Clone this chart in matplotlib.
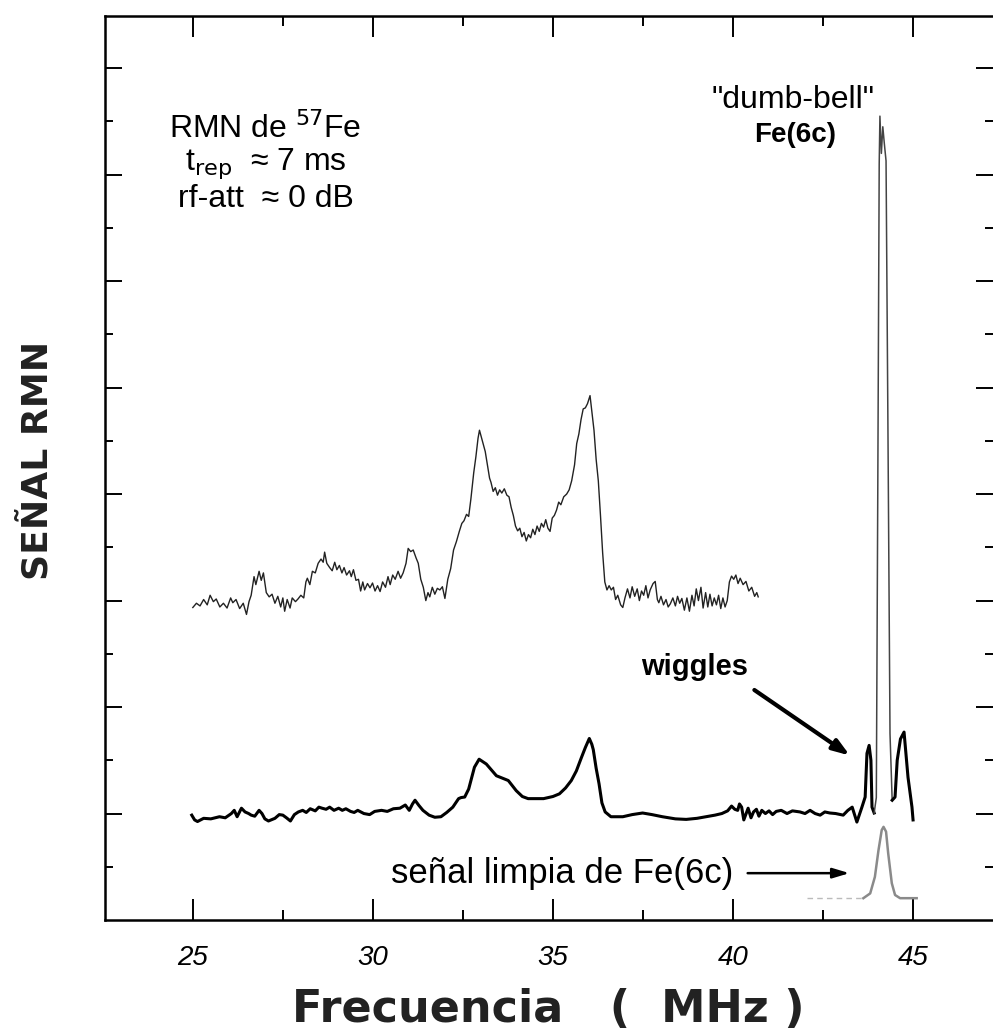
import matplotlib.pyplot as plt
from matplotlib.ticker import FixedLocator

plt.rcParams['font.family'] = ['Liberation Sans', 'DejaVu Sans']

# espectro superior (ruidoso): (frecuencia MHz, señal u.a.)
espectro_sup = [
    (25.00, 5.87), (25.10, 5.95), (25.20, 5.90), (25.30, 6.02), (25.40, 5.92),
    (25.48, 6.10), (25.57, 5.98), (25.65, 6.03), (25.75, 5.88), (25.85, 5.95),
    (25.95, 5.86), (26.05, 6.05), (26.11, 5.96), (26.20, 6.02), (26.30, 5.85),
    (26.40, 5.95), (26.49, 5.74), (26.56, 5.98), (26.62, 6.10), (26.70, 6.45),
    (26.75, 6.30), (26.84, 6.55), (26.90, 6.38), (26.96, 6.52), (27.04, 6.15),
    (27.12, 6.07), (27.20, 6.12), (27.28, 5.95), (27.36, 6.08), (27.44, 5.88),
    (27.50, 6.05), (27.55, 5.80), (27.62, 6.02), (27.70, 5.86), (27.76, 6.05),
    (27.85, 5.98), (27.92, 6.03), (28.00, 6.10), (28.08, 6.05), (28.14, 6.35),
    (28.18, 6.42), (28.25, 6.30), (28.32, 6.55), (28.40, 6.52), (28.48, 6.70),
    (28.56, 6.78), (28.62, 6.72), (28.66, 6.91), (28.72, 6.70), (28.80, 6.62),
    (28.87, 6.56), (28.94, 6.72), (29.00, 6.58), (29.07, 6.66), (29.14, 6.52),
    (29.20, 6.62), (29.27, 6.48), (29.35, 6.56), (29.40, 6.45), (29.46, 6.58),
    (29.53, 6.38), (29.60, 6.40), (29.66, 6.18), (29.72, 6.35), (29.77, 6.20),
    (29.85, 6.32), (29.92, 6.24), (29.99, 6.33), (30.06, 6.18), (30.13, 6.28),
    (30.20, 6.17), (30.27, 6.35), (30.35, 6.25), (30.42, 6.45), (30.48, 6.30),
    (30.55, 6.48), (30.62, 6.40), (30.70, 6.55), (30.77, 6.42), (30.84, 6.52),
    (30.92, 6.70), (30.98, 6.98), (31.05, 6.92), (31.12, 6.95), (31.20, 6.80),
    (31.26, 6.70), (31.33, 6.40), (31.40, 6.25), (31.47, 6.00), (31.53, 6.15),
    (31.58, 6.07), (31.65, 6.25), (31.72, 6.12), (31.79, 6.23), (31.86, 6.20),
    (31.93, 6.26), (32.00, 6.04), (32.08, 6.40), (32.16, 6.60), (32.24, 6.95),
    (32.32, 7.11), (32.40, 7.30), (32.47, 7.45), (32.53, 7.50), (32.60, 7.62),
    (32.66, 7.58), (32.72, 7.90), (32.80, 8.40), (32.86, 8.70), (32.92, 9.05),
    (32.96, 9.20), (33.00, 9.10), (33.06, 8.95), (33.12, 8.80), (33.18, 8.55),
    (33.24, 8.30), (33.28, 8.22), (33.34, 8.05), (33.40, 8.12), (33.46, 7.98),
    (33.52, 8.08), (33.58, 8.02), (33.65, 8.10), (33.72, 7.98), (33.78, 7.95),
    (33.84, 7.75), (33.90, 7.60), (33.96, 7.40), (34.02, 7.31), (34.08, 7.36),
    (34.14, 7.20), (34.20, 7.28), (34.26, 7.12), (34.32, 7.24), (34.38, 7.18),
    (34.44, 7.34), (34.50, 7.24), (34.56, 7.40), (34.62, 7.30), (34.68, 7.45),
    (34.74, 7.38), (34.80, 7.52), (34.86, 7.36), (34.92, 7.30), (34.98, 7.55),
    (35.04, 7.60), (35.10, 7.70), (35.16, 7.85), (35.22, 7.80), (35.30, 7.95),
    (35.38, 8.00), (35.45, 8.08), (35.52, 8.25), (35.60, 8.55), (35.66, 8.95),
    (35.72, 9.13), (35.78, 9.40), (35.84, 9.60), (35.90, 9.62), (35.96, 9.70),
    (36.03, 9.85), (36.08, 9.55), (36.14, 9.20), (36.20, 8.65), (36.26, 8.25),
    (36.32, 7.60), (36.38, 6.90), (36.44, 6.35), (36.50, 6.20), (36.56, 6.28),
    (36.62, 6.20), (36.68, 6.25), (36.74, 6.02), (36.80, 6.10), (36.88, 5.92),
    (36.94, 5.87), (37.00, 6.05), (37.07, 6.22), (37.14, 6.05), (37.20, 6.26),
    (37.27, 6.08), (37.34, 6.22), (37.40, 6.00), (37.46, 6.18), (37.52, 6.10),
    (37.58, 6.28), (37.64, 6.05), (37.70, 6.20), (37.78, 6.32), (37.84, 6.36),
    (37.90, 6.02), (37.94, 5.96), (38.00, 6.08), (38.07, 5.92), (38.14, 6.02),
    (38.20, 5.88), (38.26, 5.94), (38.33, 6.05), (38.40, 5.90), (38.46, 6.08),
    (38.52, 5.95), (38.58, 6.04), (38.65, 5.82), (38.72, 6.05), (38.79, 5.80),
    (38.86, 6.10), (38.92, 5.90), (38.98, 6.22), (39.04, 6.00), (39.11, 6.25),
    (39.17, 5.86), (39.24, 6.15), (39.30, 5.88), (39.36, 6.12), (39.42, 5.90),
    (39.48, 6.05), (39.54, 5.92), (39.60, 6.10), (39.66, 5.85), (39.72, 6.05),
    (39.78, 5.88), (39.84, 6.00), (39.90, 6.35), (39.96, 6.46), (40.02, 6.40),
    (40.08, 6.48), (40.14, 6.32), (40.20, 6.42), (40.28, 6.30), (40.36, 6.36),
    (40.44, 6.18), (40.52, 6.25), (40.60, 6.08), (40.66, 6.15), (40.70, 6.07),
]

# espectro inferior, hasta el pie del pico principal
espectro_inf = [
    (24.97, 1.97), (25.05, 1.88), (25.13, 1.85), (25.30, 1.91), (25.50, 1.90),
    (25.74, 1.94), (25.90, 1.92), (26.07, 2.00), (26.15, 2.06), (26.23, 1.94),
    (26.35, 2.10), (26.45, 2.03), (26.55, 2.00), (26.62, 1.97), (26.72, 1.95),
    (26.84, 2.06), (26.92, 2.00), (27.00, 1.90), (27.10, 1.86), (27.28, 1.91),
    (27.40, 1.98), (27.50, 1.97), (27.60, 1.92), (27.71, 1.86), (27.82, 1.98),
    (27.93, 2.03), (28.05, 2.06), (28.15, 2.02), (28.26, 2.09), (28.40, 2.05),
    (28.50, 2.12), (28.59, 2.10), (28.70, 2.08), (28.80, 2.12), (28.92, 2.06),
    (29.05, 2.10), (29.15, 2.06), (29.25, 2.09), (29.38, 2.04), (29.48, 2.02),
    (29.58, 2.06), (29.75, 2.00), (29.91, 1.98), (30.05, 2.04), (30.24, 2.06),
    (30.40, 2.04), (30.57, 2.09), (30.75, 2.10), (30.90, 2.16), (31.01, 2.06),
    (31.10, 2.18), (31.17, 2.25), (31.28, 2.15), (31.39, 2.06), (31.56, 1.97),
    (31.72, 1.93), (31.89, 1.94), (32.05, 2.02), (32.22, 2.12), (32.38, 2.28),
    (32.45, 2.30), (32.55, 2.31), (32.66, 2.46), (32.82, 2.87), (32.95, 3.02),
    (33.15, 2.93), (33.43, 2.71), (33.76, 2.62), (33.98, 2.43), (34.15, 2.32),
    (34.31, 2.28), (34.74, 2.28), (35.00, 2.32), (35.18, 2.37), (35.35, 2.48),
    (35.51, 2.62), (35.65, 2.80), (35.79, 3.05), (35.90, 3.24), (36.01, 3.41),
    (36.08, 3.30), (36.12, 3.20), (36.20, 2.85), (36.28, 2.56), (36.36, 2.20),
    (36.45, 2.03), (36.61, 1.94), (36.94, 1.94), (37.20, 1.98), (37.49, 2.01),
    (37.75, 1.98), (38.04, 1.94), (38.40, 1.90), (38.70, 1.89), (39.00, 1.91),
    (39.25, 1.94), (39.50, 1.97), (39.69, 2.00), (39.85, 2.05), (39.96, 2.14),
    (40.05, 2.08), (40.13, 2.06), (40.18, 2.18), (40.24, 2.12), (40.30, 1.88),
    (40.35, 1.97), (40.42, 2.10), (40.50, 1.92), (40.57, 2.03), (40.65, 2.08),
    (40.72, 1.95), (40.80, 2.06), (40.90, 2.00), (41.00, 2.05), (41.10, 1.98),
    (41.20, 2.04), (41.34, 2.06), (41.50, 2.00), (41.65, 2.05), (41.86, 2.03),
    (42.00, 2.00), (42.14, 2.06), (42.28, 2.00), (42.42, 1.97), (42.55, 2.03),
    (42.69, 2.01), (42.85, 2.00), (43.06, 1.97), (43.19, 2.06), (43.31, 2.12),
    (43.44, 1.84), (43.58, 2.12), (43.67, 2.31), (43.72, 3.13), (43.78, 3.28),
    (43.83, 3.00), (43.86, 2.12), (43.92, 2.01),
]
f_sup, s_sup = zip(*espectro_sup)
f_inf, s_inf = zip(*espectro_inf)

# pico "dumb-bell" Fe(6c)
f_db = [43.92, 43.98, 44.02, 44.06, 44.08, 44.12, 44.16, 44.20, 44.25, 44.30,
        44.36, 44.42]
s_db = [2.01, 2.30, 8.00, 14.20, 15.10, 14.40, 14.90, 14.60, 14.26, 9.50,
        3.50, 2.25]

# wiggles a la derecha del pico
f_wg = [44.42, 44.50, 44.56, 44.65, 44.75, 44.86, 44.97, 45.00]
s_wg = [2.25, 2.31, 3.00, 3.40, 3.53, 2.68, 2.12, 1.88]

# señal limpia de Fe(6c)
f_limpia = [43.62, 43.81, 43.94, 44.04, 44.13, 44.18, 44.25, 44.31, 44.41,
            44.50, 44.64, 45.10]
s_limpia = [0.41, 0.50, 0.81, 1.31, 1.69, 1.75, 1.66, 1.25, 0.69,
            0.47, 0.41, 0.41]
f_limpia_base = [42.05, 43.62]
s_limpia_base = [0.41, 0.41]

ticks_x = [25, 30, 35, 40, 45]
ticks_x_menor = [27.5, 32.5, 37.5, 42.5]
ticks_y = [2, 4, 6, 8, 10, 12, 14, 16]
ticks_y_menor = [1, 3, 5, 7, 9, 11, 13, 15]

fig = plt.figure(figsize=(9.93, 10.35), dpi=100)
ax = fig.add_axes([0.1057, 0.1111, 0.8943, 0.8734])

ax.plot(f_sup, s_sup, color='#222222', lw=1.0)
ax.plot(f_inf, s_inf, color='black', lw=2.2, solid_joinstyle='round')
ax.plot(f_db, s_db, color='#444444', lw=1.1)
ax.plot(f_wg, s_wg, color='black', lw=2.2)
ax.plot(f_limpia, s_limpia, color='#8a8a8a', lw=1.8)
ax.plot(f_limpia_base, s_limpia_base, color='#bbbbbb', lw=1.0, ls=(0, (4, 3)))

ax.set_xlim(22.56, 47.22)
ax.set_ylim(0, 16.98)

ax.xaxis.set_major_locator(FixedLocator(ticks_x))
ax.xaxis.set_minor_locator(FixedLocator(ticks_x_menor))
ax.yaxis.set_major_locator(FixedLocator(ticks_y))
ax.yaxis.set_minor_locator(FixedLocator(ticks_y_menor))
ax.set_yticklabels([])

ax.tick_params(axis='x', which='both', direction='in', top=True, bottom=True,
               width=1.4, pad=18)
ax.tick_params(axis='x', which='major', length=15)
ax.tick_params(axis='x', which='minor', length=7)
ax.tick_params(axis='y', which='both', direction='in', left=True, right=True,
               width=1.4)
ax.tick_params(axis='y', which='major', length=12)
ax.tick_params(axis='y', which='minor', length=6)

for lab in ax.get_xticklabels():
    lab.set_fontsize(20)
    lab.set_fontstyle('italic')

ax.spines['right'].set_visible(False)
for lado in ['left', 'top', 'bottom']:
    ax.spines[lado].set_linewidth(1.8)

# anotaciones
ax.text(27.02, 14.86, r'RMN de $^{57}$Fe', fontsize=23, ha='center', va='center')
ax.text(27.03, 14.20, r't$_{\rm rep}$  ≈ 7 ms', fontsize=23, ha='center', va='center')
ax.text(27.02, 13.55, 'rf-att  ≈ 0 dB', fontsize=23, ha='center', va='center')

ax.text(41.67, 15.40, '"dumb-bell"', fontsize=23, ha='center', va='center')
ax.text(41.72, 14.75, 'Fe(6c)', fontsize=20, ha='center', va='center',
        fontweight='bold')

ax.text(38.94, 4.75, 'wiggles', fontsize=21, ha='center', va='center',
        fontweight='bold')
ax.annotate('', xy=(43.31, 3.06), xytext=(40.53, 4.35),
            arrowprops=dict(arrowstyle='-|>,head_length=1.0,head_width=0.35',
                            color='black', lw=3))

ax.text(35.25, 0.88, 'señal limpia de Fe(6c)', fontsize=25, ha='center',
        va='center')
ax.annotate('', xy=(43.31, 0.88), xytext=(40.33, 0.88),
            arrowprops=dict(arrowstyle='-|>,head_length=1.0,head_width=0.3',
                            color='black', lw=1.8))

fig.text(38 / 993, 1 - 460 / 1035, 'SEÑAL RMN', rotation=90, fontsize=26,
         fontweight='bold', ha='center', va='center', color='#222222',
         family='DejaVu Sans')
fig.text(548 / 993, 1 - 1010 / 1035, 'Frecuencia   (  MHz )', fontsize=32,
         fontweight='bold', ha='center', va='center', color='#222222',
         family='DejaVu Sans')

fig.savefig('out.png', dpi=100)
